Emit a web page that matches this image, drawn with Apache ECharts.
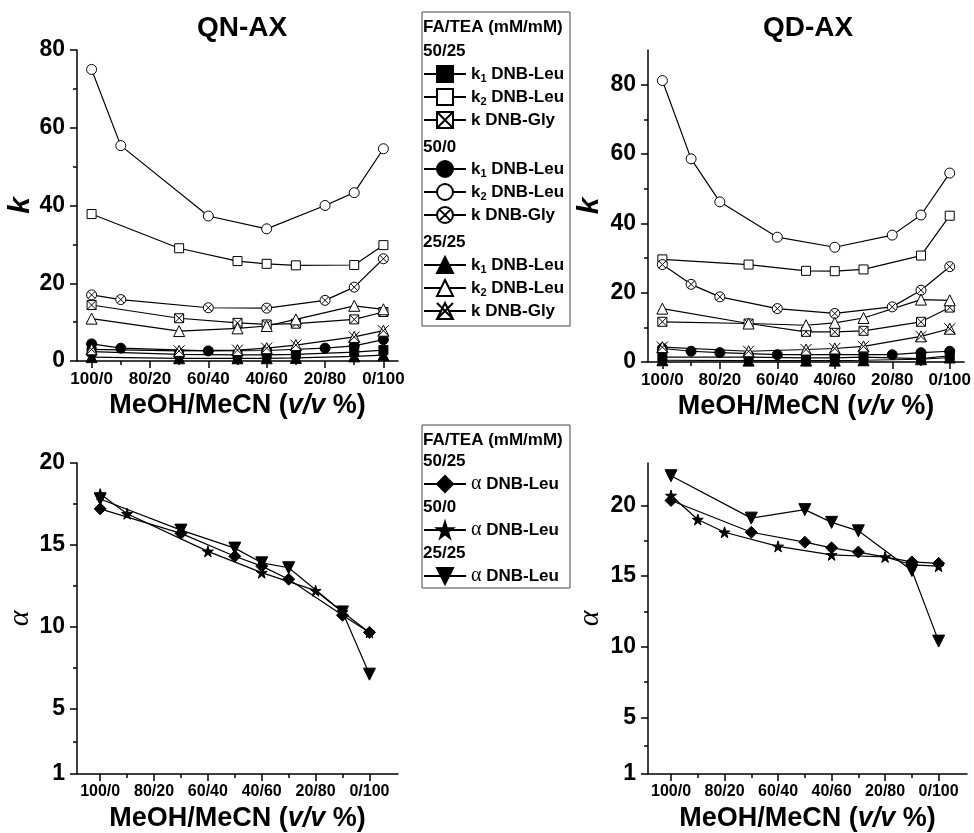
<!DOCTYPE html>
<html>
<head>
<meta charset="utf-8">
<script src="https://cdn.jsdelivr.net/npm/echarts@6/dist/echarts.min.js"></script>
<style>
  html, body { margin: 0; padding: 0; background: #fff; }
  #chart { width: 974px; height: 833px; }
</style>
</head>
<body>
<div id="chart"></div>
<script>
// x values are MeCN % (label shows MeOH/MeCN)
const xTicks = [0, 10, 20, 30, 40, 50, 60, 70, 80, 90, 100]
const xLabelVals = [0, 20, 40, 60, 80, 100]
const kLabelVals = [0, 20, 40, 60, 80]
const kMinorVals = [10, 30, 50, 70]
const aLabelVals = [1, 5, 10, 15, 20]
const aMinorVals = [3, 7.5, 12.5, 17.5]

// QN-AX
const qnX_a = [0, 30, 50, 60, 70, 90, 100]        // 50/25 and 25/25
const qnX_b = [0, 10, 40, 60, 80, 90, 100]        // 50/0
const qn_k1_5025 = [2.4, 1.7, 1.6, 1.6, 1.7, 2.3, 2.8]
const qn_k2_5025 = [37.8, 29.0, 25.7, 25.0, 24.6, 24.7, 29.8]
const qn_kG_5025 = [14.4, 11.0, 9.8, 9.4, 9.6, 10.7, 12.6]
const qn_k1_500 = [4.4, 3.3, 2.6, 2.7, 3.3, 3.9, 5.5]
const qn_k2_500 = [75.0, 55.4, 37.3, 34.0, 40.0, 43.3, 54.6]
const qn_kG_500 = [17.0, 15.8, 13.7, 13.6, 15.6, 19.0, 26.3]
const qn_k1_2525 = [1.0, 0.7, 0.7, 0.7, 0.8, 1.2, 1.5]
const qn_k2_2525 = [10.9, 7.7, 8.4, 9.0, 10.7, 14.2, 13.3]
const qn_kG_2525 = [3.0, 2.6, 2.8, 3.3, 4.1, 6.2, 7.8]

// QD-AX
const qdX_a = [0, 30, 50, 60, 70, 90, 100]
const qdX_b = [0, 10, 20, 40, 60, 80, 90, 100]
const qd_k1_5025 = [1.4, 1.4, 1.2, 1.2, 1.4, 1.0, 1.8]
const qd_k2_5025 = [29.6, 28.1, 26.3, 26.2, 26.7, 30.7, 42.2]
const qd_kG_5025 = [11.6, 11.1, 8.7, 8.7, 9.0, 11.6, 15.7]
const qd_k1_500 = [3.9, 3.1, 2.7, 2.1, 2.1, 2.1, 2.7, 3.1]
const qd_k2_500 = [81.2, 58.6, 46.2, 36.0, 33.1, 36.6, 42.4, 54.5]
const qd_kG_500 = [28.1, 22.4, 18.8, 15.4, 14.0, 15.9, 20.7, 27.5]
const qd_k1_2525 = [0.5, 0.4, 0.4, 0.4, 0.5, 0.8, 1.3]
const qd_k2_2525 = [15.4, 11.1, 10.6, 11.3, 12.7, 18.0, 17.8]
const qd_kG_2525 = [4.3, 3.1, 3.6, 3.9, 4.5, 7.4, 9.6]

// alpha
const qn_a_5025 = [17.2, 15.7, 14.3, 13.7, 12.9, 10.7, 9.65]
const qn_a_500 = [18.1, 16.9, 14.6, 13.3, 12.2, 10.9, 9.65]
const qn_a_2525 = [17.8, 15.9, 14.8, 13.9, 13.6, 10.9, 7.1]
const qd_a_5025 = [20.35, 18.1, 17.4, 17.0, 16.7, 16.0, 15.9]
const qd_a_500 = [20.7, 19.0, 18.1, 17.1, 16.5, 16.35, 15.8, 15.7]
const qd_a_2525 = [22.1, 19.1, 19.7, 18.8, 18.2, 15.4, 10.4]

const FONT = '"Liberation Sans", Arial, sans-serif'
const SERIF = '"Liberation Serif", "Times New Roman", serif'

const SYM = {
  sqX: 'path://M0 0L10 0L10 10L0 10Z M0 0L10 10 M10 0L0 10',
  cirX: 'path://M0 5A5 5 0 1 1 10 5A5 5 0 1 1 0 5Z M1.46 1.46L8.54 8.54 M8.54 1.46L1.46 8.54',
  triX: 'path://M5 0L10 10L0 10Z M0 0L10 10 M10 0L0 10',
  star: 'path://M50 0L61 35L98 35L68 57L79 91L50 70L21 91L32 57L2 35L39 35Z'
}

function pairs(xs, ys) {
  return xs.map((x, i) => [x, ys[i]])
}

function line(name, axis, xs, ys, symbol, size, fill, rotate) {
  return {
    type: 'line',
    name: name,
    xAxisIndex: axis * 2,
    yAxisIndex: axis * 2,
    data: pairs(xs, ys),
    symbol: symbol,
    symbolSize: size,
    symbolRotate: rotate || 0,
    showAllSymbol: true,
    lineStyle: { color: '#000', width: 1.2 },
    itemStyle: { color: fill, borderColor: '#000', borderWidth: 1 },
    emphasis: { disabled: true }
  }
}

function xAxes(grid, min, max, fontSize) {
  return [
    {
      type: 'value', gridIndex: grid, min: min, max: max, position: 'bottom',
      splitLine: { show: false },
      axisLine: { onZero: false, lineStyle: { color: '#000', width: 1.5 } },
      axisTick: { customValues: xLabelVals, length: 7, lineStyle: { color: '#000', width: 1.5 } },
      axisLabel: {
        customValues: xLabelVals, margin: 10, color: '#000',
        fontFamily: FONT, fontWeight: 'bold', fontSize: fontSize,
        formatter: (v) => (100 - v) + '/' + v
      },
      name: '{b|MeOH/MeCN (}{i|v/v}{b| %)}',
      nameLocation: 'middle', nameGap: 31,
      nameTextStyle: {
        rich: {
          b: { fontFamily: FONT, fontWeight: 'bold', fontSize: 27, color: '#000' },
          i: { fontFamily: FONT, fontWeight: 'bold', fontStyle: 'italic', fontSize: 27, color: '#000' }
        }
      }
    },
    {
      type: 'value', gridIndex: grid, min: min, max: max, position: 'bottom', silent: true,
      splitLine: { show: false },
      axisLine: { show: false, onZero: false },
      axisLabel: { show: false },
      axisTick: { show: true, customValues: xTicks, length: 4, lineStyle: { color: '#000', width: 1.5 } }
    }
  ]
}

function yAxes(grid, min, max, labels, minors, name, nameStyle, nameGap) {
  return [
    {
      type: 'value', gridIndex: grid, min: min, max: max, position: 'left',
      splitLine: { show: false },
      axisLine: { onZero: false, lineStyle: { color: '#000', width: 1.5 } },
      axisTick: { customValues: labels, length: 7, lineStyle: { color: '#000', width: 1.5 } },
      axisLabel: {
        customValues: labels, margin: 12, color: '#000',
        fontFamily: FONT, fontWeight: 'bold', fontSize: 23
      },
      name: name, nameLocation: 'middle', nameGap: nameGap,
      nameTextStyle: nameStyle
    },
    {
      type: 'value', gridIndex: grid, min: min, max: max, position: 'left', silent: true,
      splitLine: { show: false },
      axisLine: { show: false, onZero: false },
      axisLabel: { show: false },
      axisTick: { show: true, customValues: minors, length: 4, lineStyle: { color: '#000', width: 1.5 } }
    }
  ]
}

const kName = { fontFamily: FONT, fontWeight: 'bold', fontStyle: 'italic', fontSize: 30, color: '#000' }
const aName = { fontFamily: SERIF, fontStyle: 'italic', fontSize: 30, color: '#000' }

const series = [
  // QN-AX k
  line('50/25 k1 DNB-Leu', 0, qnX_a, qn_k1_5025, 'rect', 9, '#000'),
  line('50/25 k2 DNB-Leu', 0, qnX_a, qn_k2_5025, 'rect', 9, '#fff'),
  line('50/25 k DNB-Gly', 0, qnX_a, qn_kG_5025, SYM.sqX, 9, '#fff'),
  line('50/0 k1 DNB-Leu', 0, qnX_b, qn_k1_500, 'circle', 10, '#000'),
  line('50/0 k2 DNB-Leu', 0, qnX_b, qn_k2_500, 'circle', 10, '#fff'),
  line('50/0 k DNB-Gly', 0, qnX_b, qn_kG_500, SYM.cirX, 10, '#fff'),
  line('25/25 k1 DNB-Leu', 0, qnX_a, qn_k1_2525, 'triangle', 11, '#000'),
  line('25/25 k2 DNB-Leu', 0, qnX_a, qn_k2_2525, 'triangle', 11, '#fff'),
  line('25/25 k DNB-Gly', 0, qnX_a, qn_kG_2525, SYM.triX, 11, '#fff'),
  // QD-AX k
  line('50/25 k1 DNB-Leu', 1, qdX_a, qd_k1_5025, 'rect', 9, '#000'),
  line('50/25 k2 DNB-Leu', 1, qdX_a, qd_k2_5025, 'rect', 9, '#fff'),
  line('50/25 k DNB-Gly', 1, qdX_a, qd_kG_5025, SYM.sqX, 9, '#fff'),
  line('50/0 k1 DNB-Leu', 1, qdX_b, qd_k1_500, 'circle', 10, '#000'),
  line('50/0 k2 DNB-Leu', 1, qdX_b, qd_k2_500, 'circle', 10, '#fff'),
  line('50/0 k DNB-Gly', 1, qdX_b, qd_kG_500, SYM.cirX, 10, '#fff'),
  line('25/25 k1 DNB-Leu', 1, qdX_a, qd_k1_2525, 'triangle', 11, '#000'),
  line('25/25 k2 DNB-Leu', 1, qdX_a, qd_k2_2525, 'triangle', 11, '#fff'),
  line('25/25 k DNB-Gly', 1, qdX_a, qd_kG_2525, SYM.triX, 11, '#fff'),
  // alpha
  line('50/25 α DNB-Leu', 2, qnX_a, qn_a_5025, 'diamond', 12, '#000'),
  line('50/0 α DNB-Leu', 2, qnX_b, qn_a_500, SYM.star, 11, '#000'),
  line('25/25 α DNB-Leu', 2, qnX_a, qn_a_2525, 'triangle', 12, '#000', 180),
  line('50/25 α DNB-Leu', 3, qdX_a, qd_a_5025, 'diamond', 12, '#000'),
  line('50/0 α DNB-Leu', 3, qdX_b, qd_a_500, SYM.star, 11, '#000'),
  line('25/25 α DNB-Leu', 3, qdX_a, qd_a_2525, 'triangle', 12, '#000', 180)
]

const legendRich = {
  t: { fontFamily: FONT, fontWeight: 'bold', fontSize: 17, lineHeight: 20, color: '#000' },
  s: { fontFamily: FONT, fontWeight: 'bold', fontSize: 11, lineHeight: 12, verticalAlign: 'bottom', color: '#000' },
  a: { fontFamily: SERIF, fontSize: 20, lineHeight: 20, color: '#000' }
}

function legendText(name) {
  const rest = name.slice(name.indexOf(' ') + 1)
  if (rest.startsWith('α')) return '{a|α}{t| DNB-Leu}'
  if (rest.startsWith('k1') || rest.startsWith('k2')) return '{t|k}{s|' + rest[1] + '}{t| DNB-Leu}'
  return '{t|' + rest + '}'
}

function legend(names, top) {
  return {
    data: names, left: 423, top: top, orient: 'vertical', padding: 0,
    itemWidth: 42, itemHeight: 20, itemGap: 4, selectedMode: false,
    formatter: legendText,
    textStyle: { rich: legendRich }
  }
}

function header(text, y) {
  return {
    type: 'text', x: 423, y: y, silent: true,
    style: { text: text, font: 'bold 17px ' + FONT, fill: '#000', verticalAlign: 'middle' }
  }
}

const chart = echarts.init(document.getElementById('chart'))
chart.setOption({
  animation: false,
  backgroundColor: '#fff',
  title: [
    { text: 'QN-AX', left: 242, top: 14, textAlign: 'center', padding: 0,
      textStyle: { fontFamily: FONT, fontWeight: 'bold', fontSize: 28, color: '#000' } },
    { text: 'QD-AX', left: 808, top: 14, textAlign: 'center', padding: 0,
      textStyle: { fontFamily: FONT, fontWeight: 'bold', fontSize: 28, color: '#000' } }
  ],
  grid: [
    { left: 77, top: 50, width: 321, height: 311 },
    { left: 648, top: 50, width: 319, height: 312 },
    { left: 77, top: 463, width: 321, height: 311 },
    { left: 648, top: 463, width: 319, height: 312 }
  ],
  xAxis: [
    ...xAxes(0, -5, 105, 17),
    ...xAxes(1, -5, 105, 17),
    ...xAxes(2, -8.6, 110.6, 16),
    ...xAxes(3, -8.6, 110.6, 16)
  ],
  yAxis: [
    ...yAxes(0, 0, 80, kLabelVals, kMinorVals, 'k', kName, 36),
    ...yAxes(1, 0, 90, kLabelVals, kMinorVals, 'k', kName, 43),
    ...yAxes(2, 1, 20, aLabelVals, aMinorVals, 'α', aName, 39),
    ...yAxes(3, 1, 23, aLabelVals, aMinorVals, 'α', aName, 43)
  ],
  legend: [
    legend(['50/25 k1 DNB-Leu', '50/25 k2 DNB-Leu', '50/25 k DNB-Gly'], 65),
    legend(['50/0 k1 DNB-Leu', '50/0 k2 DNB-Leu', '50/0 k DNB-Gly'], 160),
    legend(['25/25 k1 DNB-Leu', '25/25 k2 DNB-Leu', '25/25 k DNB-Gly'], 256),
    legend(['50/25 α DNB-Leu'], 474),
    legend(['50/0 α DNB-Leu'], 520),
    legend(['25/25 α DNB-Leu'], 566)
  ],
  graphic: [
    { type: 'rect', silent: true, shape: { x: 422, y: 12, width: 148, height: 314 },
      style: { fill: 'none', stroke: '#444', lineWidth: 1 } },
    { type: 'rect', silent: true, shape: { x: 422, y: 425, width: 148, height: 163 },
      style: { fill: 'none', stroke: '#444', lineWidth: 1 } },
    header('FA/TEA (mM/mM)', 27),
    header('50/25', 51),
    header('50/0', 147),
    header('25/25', 242),
    header('FA/TEA (mM/mM)', 440),
    header('50/25', 461),
    header('50/0', 507),
    header('25/25', 553)
  ],
  series: series
})
</script>
</body>
</html>
